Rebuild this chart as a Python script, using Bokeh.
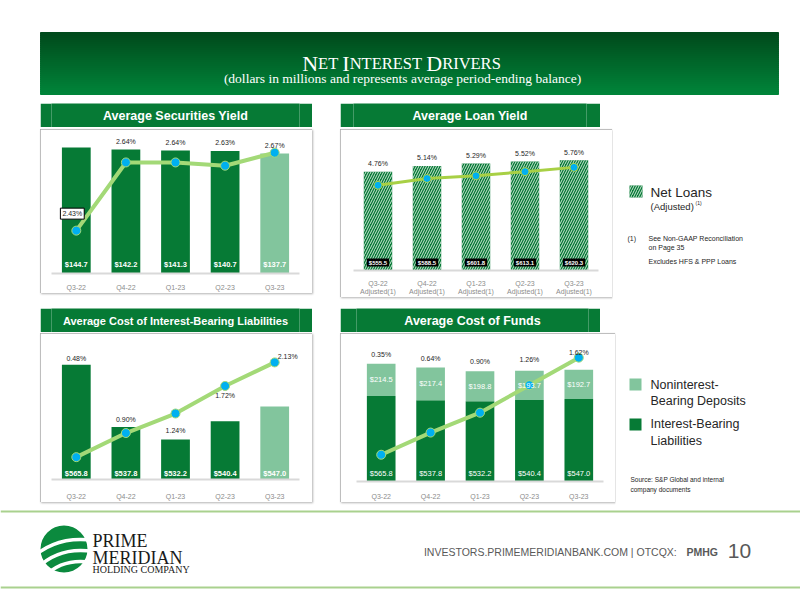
import numpy as np
from bokeh.plotting import figure
from bokeh.models import Range1d, FactorRange, Spacer
from bokeh.layouts import column, row
from bokeh.core.properties import value
from bokeh.embed import file_html
from bokeh.resources import INLINE

# ---------------- data ----------------
quarters = ["Q3-22", "Q4-22", "Q1-23", "Q2-23", "Q3-23"]
loan_quarters = ["Q3-22\nAdjusted(1)", "Q4-22\nAdjusted(1)", "Q1-23\nAdjusted(1)",
                 "Q2-23\nAdjusted(1)", "Q3-23\nAdjusted(1)"]

securities_balance = [144.7, 142.2, 141.3, 140.7, 137.7]
securities_yield = [2.43, 2.64, 2.64, 2.63, 2.67]

loan_balance = [555.5, 588.5, 601.8, 613.1, 620.3]
loan_yield = [4.76, 5.14, 5.29, 5.52, 5.76]

ibl_balance = [565.8, 537.8, 532.2, 540.4, 547.0]
ibl_cost = [0.48, 0.90, 1.24, 1.72, 2.13]

nib_deposits = [214.5, 217.4, 198.8, 193.7, 192.7]
cost_of_funds = [0.35, 0.64, 0.90, 1.26, 1.62]

# ---------------- styles ----------------
DARK = "#067a35"
LIGHT = "#82c59d"
LINE = "#a3d977"
LINE_LOAN = "#a8d045"
MARKER = "#00b0f0"
TXT = "#262626"
SANS = "Liberation Sans"
SERIF = "Liberation Serif"


def canvas(w, h, x0, x1, y_top, y_bottom, bg="white"):
    p = figure(width=w, height=h, x_range=Range1d(x0, x1), y_range=Range1d(y_bottom, y_top),
               output_backend="svg", toolbar_location=None,
               x_axis_location=None, y_axis_location=None, min_border=0,
               outline_line_color=None, background_fill_color=bg, border_fill_color=bg)
    p.xgrid.visible = False
    p.ygrid.visible = False
    return p


def chart(w, h, factors, y0, y1, p0, p1, ml, mr, mt, mb, standoff):
    p = figure(width=w, height=h, x_range=FactorRange(factors=factors), y_range=Range1d(y0, y1),
               output_backend="svg", toolbar_location=None, y_axis_location=None,
               min_border_left=ml, min_border_right=mr, min_border_top=mt, min_border_bottom=mb,
               outline_line_color=None, background_fill_color="white", border_fill_color="white",
               styles={"outline": "1px solid #a9a9a9", "outline-offset": "-1px",
                       "box-shadow": "1px 1px 2px rgba(0,0,0,0.3)"})
    p.extra_y_ranges = {"pct": Range1d(p0, p1)}
    p.xgrid.visible = False
    p.ygrid.visible = False
    ax = p.xaxis[0]
    ax.axis_line_color = "#d9d9d9"
    ax.axis_line_width = 2
    ax.major_tick_line_color = None
    ax.minor_tick_line_color = None
    ax.major_label_standoff = standoff
    ax.major_label_text_font = SANS
    ax.major_label_text_font_size = "7px"
    ax.major_label_text_color = "#8c8c8c"
    return p


def title_bar(w, text, size="12.5px"):
    p = canvas(w, 24, 0, 1, 1, 0, bg=DARK)
    p.text(x=[0.5], y=[0.5], text=[text], text_align="center", text_baseline="middle",
           text_color="white", text_font=value(SANS), text_font_size=size,
           text_font_style="bold")
    return p


def money(vals):
    return [f"${v:.1f}" for v in vals]


def pct(vals):
    return [f"{v:.2f}%" for v in vals]


lbl = dict(text_align="center", text_baseline="middle", text_font=value(SANS))

# ---------------- chart 1: securities ----------------
c1 = chart(272, 164, quarters, 0, 158.4, 2.298, 2.723, 11, 13, 6, 20, 4)
c1.vbar(x=quarters, top=securities_balance, width=0.58,
        fill_color=[DARK, DARK, DARK, DARK, LIGHT], line_color=None)
c1.line(quarters, securities_yield, y_range_name="pct", line_color=LINE, line_width=4)
c1.scatter(quarters, securities_yield, y_range_name="pct", size=9, fill_color=MARKER,
           line_color=LINE, line_width=1)
c1.text(x=quarters, y=[0] * 5, text=money(securities_balance), y_offset=-9,
        text_color="white", text_font_size="7.5px", text_font_style="bold", **lbl)
c1.text(x=quarters[1:], y=securities_balance[1:], text=pct(securities_yield[1:]), y_offset=-8,
        text_color=TXT, text_font_size="7px", **lbl)
c1.text(x=quarters[:1], y=securities_yield[:1], y_range_name="pct", text=pct(securities_yield[:1]),
        x_offset=-4, y_offset=-17, text_color=TXT, text_font_size="7px",
        background_fill_color="white", border_line_color="black", border_line_width=1,
        padding=2, **lbl)

# ---------------- chart 2: loans ----------------
c2 = chart(272, 168, loan_quarters, 0, 760, 0, 7.54, 13, 14, 6, 24, 3)
c2.vbar(x=loan_quarters, top=loan_balance, width=0.58, fill_color=DARK, line_color=None,
        hatch_pattern="/", hatch_color="white", hatch_scale=5, hatch_weight=0.8)
c2.line(loan_quarters, loan_yield, y_range_name="pct", line_color=LINE_LOAN, line_width=3)
c2.scatter(loan_quarters, loan_yield, y_range_name="pct", size=8, fill_color=MARKER,
           line_color=LINE_LOAN, line_width=1)
c2.text(x=loan_quarters, y=[0] * 5, text=money(loan_balance), y_offset=-8,
        text_color="white", text_font_size="6px", text_font_style="bold",
        background_fill_color="black", padding=(2, 1), **lbl)
c2.text(x=loan_quarters, y=loan_balance, text=pct(loan_yield), y_offset=-8,
        text_color=TXT, text_font_size="7px", **lbl)

# ---------------- chart 3: interest-bearing liabilities ----------------
c3 = chart(272, 169, quarters, 514.2, 576.3, 0.091, 2.494, 11, 13, 8, 23, 7)
c3.vbar(x=quarters, top=ibl_balance, width=0.58,
        fill_color=[DARK, DARK, DARK, DARK, LIGHT], line_color=None)
c3.line(quarters, ibl_cost, y_range_name="pct", line_color=LINE, line_width=4)
c3.scatter(quarters, ibl_cost, y_range_name="pct", size=9, fill_color=MARKER,
           line_color=LINE, line_width=1)
c3.text(x=quarters, y=[c3.y_range.start] * 5, text=money(ibl_balance), y_offset=-6,
        text_color="white", text_font_size="7.5px", text_font_style="bold", **lbl)
c3.text(x=quarters[:3], y=ibl_balance[:3], text=pct(ibl_cost[:3]), y_offset=[-6, -8, -9],
        text_color=TXT, text_font_size="7px", **lbl)
c3.text(x=quarters[3:], y=ibl_cost[3:], y_range_name="pct", text=pct(ibl_cost[3:]),
        x_offset=[0, 13], y_offset=[10, -6], text_color=TXT, text_font_size="7px", **lbl)

# ---------------- chart 4: cost of funds ----------------
stack_top = list(np.add(ibl_balance, nib_deposits))
nib_mid = list(np.add(ibl_balance, np.divide(nib_deposits, 2)))
c4 = chart(275, 169, quarters, 0, 927.6, 0, 1.831, 16, 12, 8, 20, 5)
c4.vbar(x=quarters, top=ibl_balance, width=0.58, fill_color=DARK, line_color=None)
c4.vbar(x=quarters, bottom=ibl_balance, top=stack_top, width=0.58, fill_color=LIGHT, line_color=None)
c4.line(quarters, cost_of_funds, y_range_name="pct", line_color=LINE, line_width=4)
c4.scatter(quarters, cost_of_funds, y_range_name="pct", size=9, fill_color=MARKER,
           line_color=LINE, line_width=1)
c4.text(x=quarters, y=[0] * 5, text=money(ibl_balance), y_offset=-8,
        text_color="white", text_font_size="7.5px", **lbl)
c4.text(x=quarters, y=nib_mid, text=money(nib_deposits),
        text_color="white", text_font_size="7.5px", **lbl)
c4.text(x=quarters, y=stack_top, text=pct(cost_of_funds), y_offset=[-9, -9, -10, -11, -17],
        text_color=TXT, text_font_size="7px", **lbl)

# ---------------- title bars ----------------
tb1 = title_bar(272, "Average Securities Yield")
tb2 = title_bar(260, "Average Loan Yield")
tb3 = title_bar(272, "Average Cost of Interest-Bearing Liabilities", size="11px")
tb4 = title_bar(260, "Average Cost of Funds")

# ---------------- header ----------------
hd = canvas(800, 100, 0, 800, 0, 100)
n = 31
ys = np.linspace(32, 94, n + 1)
c_top = np.array([0, 74, 28])
c_bot = np.array([0, 132, 57])
cols = []
for i in range(n):
    t = i / (n - 1)
    r, g, b = (c_top + (c_bot - c_top) * t).astype(int)
    cols.append(f"#{r:02x}{g:02x}{b:02x}")
hd.quad(left=40, right=778, top=ys[:-1], bottom=ys[1:], fill_color=cols, line_color=cols)

pieces = [("N", 22), ("ET", 16.5), (" ", 16.5), ("I", 22), ("NTEREST", 16.5), (" ", 16.5),
          ("D", 22), ("RIVERS", 16.5)]
adv = {"N": 722, "E": 611, "T": 611, "I": 333, "R": 667, "S": 556, "D": 722, "V": 722, " ": 250}
widths = [sum(adv[ch] for ch in s) * sz / 1000 for s, sz in pieces]
x = 401 - sum(widths) / 2
for (s, sz), w in zip(pieces, widths):
    if s.strip():
        hd.text(x=[x], y=[63.3], text=[s], text_align="left", text_baseline="alphabetic",
                text_color="white", text_font=value(SERIF), text_font_size=f"{sz}px")
    x += w
hd.text(x=[402], y=[78.3], text=["(dollars in millions and represents average period-ending balance)"],
        text_align="center", text_baseline="alphabetic", text_color="white",
        text_font=value(SERIF), text_font_size="13.5px")

# ---------------- legends ----------------
leg = dict(text_align="left", text_baseline="middle", text_color=TXT, text_font=value(SANS))
lt = canvas(188, 205, 612, 800, 100, 305)
lt.quad(left=629, right=642, top=185, bottom=197, fill_color=DARK, line_color=None,
        hatch_pattern="/", hatch_color="white", hatch_scale=5, hatch_weight=0.8)
lt.text(x=[650], y=[191.5], text=["Net Loans"], text_font_size="13.5px", **leg)
lt.text(x=[650], y=[206], text=["(Adjusted)"], text_font_size="9.5px", **leg)
lt.text(x=[695], y=[202], text=["(1)"], text_font_size="5px", **leg)
lt.text(x=[627], y=[238], text=["(1)"], text_font_size="7px", **leg)
lt.text(x=[648], y=[238], text=["See Non-GAAP Reconciliation"], text_font_size="7px", **leg)
lt.text(x=[648], y=[247], text=["on Page 35"], text_font_size="7px", **leg)
lt.text(x=[648], y=[261], text=["Excludes HFS & PPP Loans"], text_font_size="7px", **leg)

lb = canvas(185, 203, 615, 800, 305, 508)
lb.quad(left=629, right=641, top=378, bottom=390, fill_color=LIGHT, line_color=None)
lb.quad(left=629, right=641, top=418, bottom=430, fill_color=DARK, line_color=None)
lb.text(x=[650], y=[384], text=["Noninterest-"], text_font_size="12.5px", **leg)
lb.text(x=[650], y=[400.5], text=["Bearing Deposits"], text_font_size="12.5px", **leg)
lb.text(x=[650], y=[423.5], text=["Interest-Bearing"], text_font_size="12.5px", **leg)
lb.text(x=[650], y=[440], text=["Liabilities"], text_font_size="12.5px", **leg)
lb.text(x=[630], y=[479], text=["Source: S&P Global and internal"], text_font_size="6.5px", **leg)
lb.text(x=[630], y=[488.5], text=["company documents"], text_font_size="6.5px", **leg)

# ---------------- footer ----------------
ft = canvas(800, 91, 0, 800, 508, 599)
ft.circle(x=[63.5], y=[548.5], radius=23.5, fill_color="#0b8a3e", line_color=None)
ft.circle(x=[80, 80, 80], y=[612, 612, 612], radius=[51, 62, 73], fill_color=None,
          line_color="white", line_width=3.5)
ft.quad(left=0, right=800, top=575, bottom=599, fill_color="white", line_color=None)
ft.segment(x0=[0, 0], y0=[511, 587], x1=[800, 800], y1=[511, 587], line_color="#a9d18e", line_width=2)
ft.text(x=[92], y=[540.3], text=["PRIME"], text_align="left", text_baseline="alphabetic",
        text_color="#1a1a1a", text_font=value(SERIF), text_font_size="18px")
ft.text(x=[92], y=[557], text=["MERIDIAN"], text_align="left", text_baseline="alphabetic",
        text_color="#1a1a1a", text_font=value(SERIF), text_font_size="18px")
ft.text(x=[92], y=[568.7], text=["HOLDING COMPANY"], text_align="left", text_baseline="alphabetic",
        text_color="#1a1a1a", text_font=value(SERIF), text_font_size="10px")
ft.text(x=[685], y=[551], text=["INVESTORS.PRIMEMERIDIANBANK.COM  |  OTCQX: "], text_align="right",
        text_baseline="middle", text_color="#595959", text_font=value(SANS), text_font_size="10.5px")
ft.text(x=[686], y=[551], text=["PMHG"], text_align="left", text_baseline="middle",
        text_color="#595959", text_font=value(SANS), text_font_size="10.5px", text_font_style="bold")
ft.text(x=[739], y=[550], text=["10"], text_align="center", text_baseline="middle",
        text_color="#595959", text_font=value(SANS), text_font_size="21px")

# ---------------- layout ----------------
col1 = column(Spacer(width=272, height=3), tb1, Spacer(width=272, height=2), c1, Spacer(width=272, height=12))
col2 = column(Spacer(width=272, height=3), tb2, Spacer(width=272, height=2), c2, Spacer(width=272, height=8))
col3 = column(Spacer(width=272, height=3), tb3, Spacer(width=272, height=1), c3, Spacer(width=272, height=6))
col4 = column(Spacer(width=275, height=3), tb4, Spacer(width=275, height=1), c4, Spacer(width=275, height=6))

top_row = row(Spacer(width=40, height=205), col1, Spacer(width=28, height=205), col2, lt)
bottom_row = row(Spacer(width=40, height=203), col3, Spacer(width=28, height=203), col4, lb)
page = column(hd, top_row, bottom_row, ft)

with open("out.html", "w") as f:
    f.write(file_html(page, INLINE))
